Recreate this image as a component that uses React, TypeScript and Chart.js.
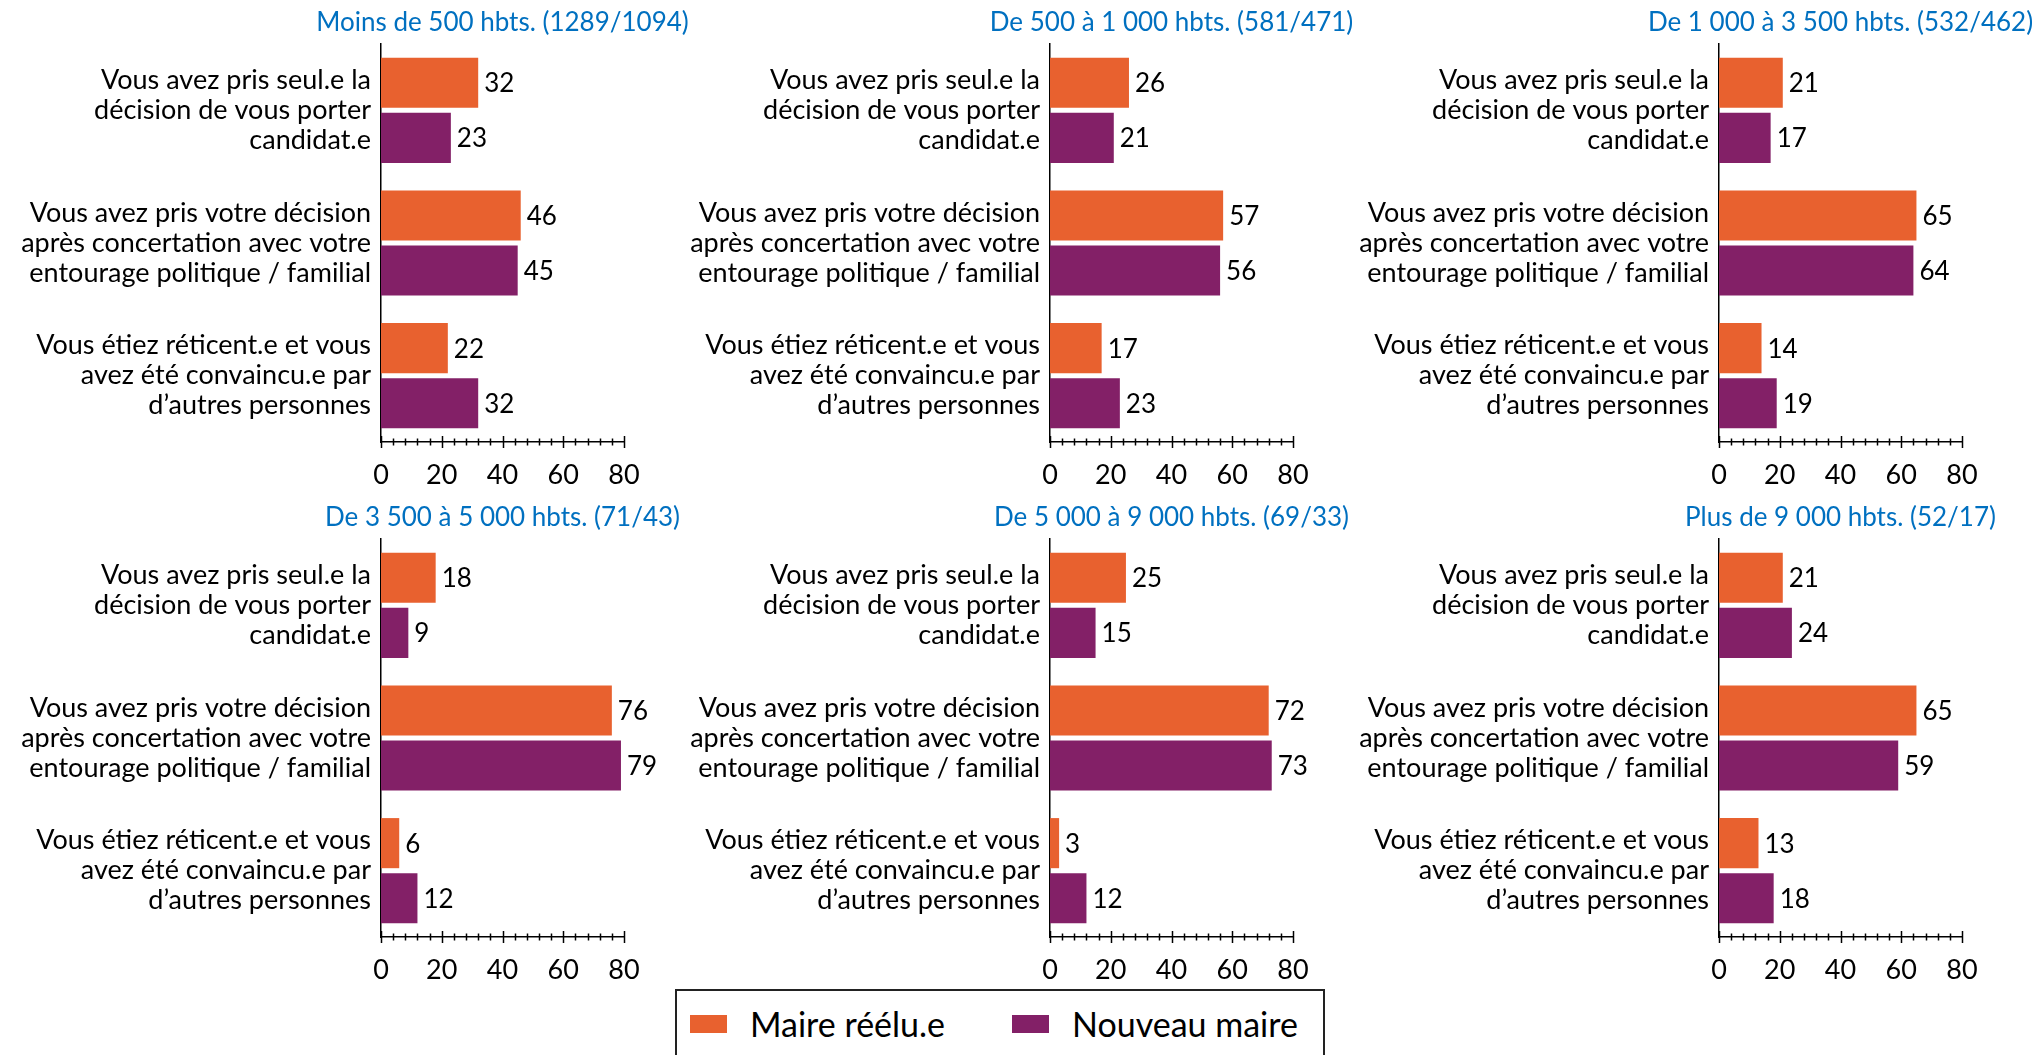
import React, { useEffect, useRef } from "react";
import { Chart, registerables } from "chart.js";

Chart.register(...registerables);

// ---------- DATA ----------
const categories: string[][] = [
  ["Vous avez pris seul.e la", "décision de vous porter", "candidat.e"],
  ["Vous avez pris votre décision", "après concertation avec votre", "entourage politique / familial"],
  ["Vous étiez réticent.e et vous", "avez été convaincu.e par", "d’autres personnes"],
];

const seriesNames = ["Maire réélu.e", "Nouveau maire"];

const panelTitles = [
  "Moins de 500 hbts. (1289/1094)",
  "De 500 à 1 000 hbts. (581/471)",
  "De 1 000 à 3 500 hbts. (532/462)",
  "De 3 500 à 5 000 hbts. (71/43)",
  "De 5 000 à 9 000 hbts. (69/33)",
  "Plus de 9 000 hbts. (52/17)",
];

const maireReelu: number[][] = [
  [32, 46, 22],
  [26, 57, 17],
  [21, 65, 14],
  [18, 76, 6],
  [25, 72, 3],
  [21, 65, 13],
];

const nouveauMaire: number[][] = [
  [23, 45, 32],
  [21, 56, 23],
  [17, 64, 19],
  [9, 79, 12],
  [15, 73, 12],
  [24, 59, 18],
];

const xTickValues = [0, 20, 40, 60, 80];
const xMinorStep = 4;

// ---------- STYLE ----------
const ORANGE = "#E8612F";
const PURPLE = "#832067";
const TITLE_BLUE = "#0070C0";
const FONT = "Lato";
const FONT_SIZE = 27;
const TITLE_SIZE = 26;
const VALUE_SIZE = 26;

// layout of panels (page pixels); canvases are transparent and may overlap
const COLS = [
  { left: 0, width: 720, axisX: 381, endX: 624 },
  { left: 680, width: 700, axisX: 1050, endX: 1293 },
  { left: 1350, width: 689, axisX: 1719, endX: 1962 },
];
const ROWS = [{ top: 0 }, { top: 495 }];
const CANVAS_H = 492;
const PAD_TOP = 44;
const X_AXIS_H = 50;

const panelPlugin = {
  id: "panelDecor",
  afterDraw(chart: any) {
    const ctx = chart.ctx;
    const area = chart.chartArea;
    const xs = chart.scales.x;
    const title = chart.options.plugins.panelDecor?.title ?? "";
    ctx.save();
    // title
    ctx.fillStyle = TITLE_BLUE;
    ctx.font = `${TITLE_SIZE}px ${FONT}`;
    ctx.textAlign = "center";
    ctx.textBaseline = "middle";
    ctx.fillText(title, (area.left + area.right) / 2, area.top - 21);
    // crossing ticks on x axis
    ctx.strokeStyle = "#000";
    ctx.lineWidth = 1.5;
    const y = area.bottom;
    const maxTick = xTickValues[xTickValues.length - 1];
    for (let v = xTickValues[0]; v <= maxTick + 1e-9; v += xMinorStep) {
      const px = Math.round(xs.getPixelForValue(v)) + 0.5;
      const major = xTickValues.includes(v);
      const h = major ? 6 : 3.5;
      ctx.beginPath();
      ctx.moveTo(px, y - h);
      ctx.lineTo(px, y + h);
      ctx.stroke();
    }
    ctx.restore();
  },
  afterDatasetsDraw(chart: any) {
    const ctx = chart.ctx;
    ctx.save();
    ctx.fillStyle = "#000";
    ctx.font = `${VALUE_SIZE}px ${FONT}`;
    ctx.textAlign = "left";
    ctx.textBaseline = "middle";
    chart.data.datasets.forEach((ds: any, di: number) => {
      const meta = chart.getDatasetMeta(di);
      meta.data.forEach((bar: any, i: number) => {
        ctx.fillText(String(ds.data[i]), bar.x + 6, bar.y + 1);
      });
    });
    ctx.restore();
  },
};

function Panel({ index }: { index: number }) {
  const ref = useRef<HTMLCanvasElement | null>(null);
  const col = COLS[index % 3];
  const row = ROWS[Math.floor(index / 3)];
  useEffect(() => {
    if (!ref.current) return;
    const yAxisW = col.axisX - col.left;
    const rightPad = col.left + col.width - col.endX;
    const chart = new Chart(ref.current, {
      type: "bar",
      data: {
        labels: categories as any,
        datasets: [
          {
            label: seriesNames[0],
            data: maireReelu[index],
            backgroundColor: ORANGE,
            categoryPercentage: 0.83,
            barPercentage: 0.91,
          },
          {
            label: seriesNames[1],
            data: nouveauMaire[index],
            backgroundColor: PURPLE,
            categoryPercentage: 0.83,
            barPercentage: 0.91,
          },
        ],
      },
      options: {
        indexAxis: "y",
        responsive: false,
        animation: false,
        devicePixelRatio: 1,
        layout: { padding: { top: PAD_TOP, right: rightPad, left: 0, bottom: 0 } },
        plugins: {
          legend: { display: false },
          title: { display: false },
          tooltip: { enabled: false },
          panelDecor: { title: panelTitles[index] },
        } as any,
        scales: {
          x: {
            min: xTickValues[0],
            max: xTickValues[xTickValues.length - 1],
            z: 1,
            afterBuildTicks: (s: any) => {
              s.ticks = xTickValues.map((v) => ({ value: v }));
            },
            ticks: {
              color: "#000",
              font: { family: FONT, size: FONT_SIZE },
              padding: 17,
              maxRotation: 0,
            },
            grid: { display: false, drawTicks: false },
            border: { display: true, color: "#000", width: 1.5 },
            afterFit: (s: any) => {
              s.height = X_AXIS_H;
              s.paddingLeft = 0;
              s.paddingRight = 0;
            },
          },
          y: {
            z: 1,
            ticks: {
              color: "#000",
              font: { family: FONT, size: FONT_SIZE, lineHeight: 30 / FONT_SIZE },
              padding: 10,
              crossAlign: "near",
            },
            grid: { display: false, drawTicks: false },
            border: { display: true, color: "#000", width: 1.5 },
            afterFit: (s: any) => {
              s.width = yAxisW;
              s.paddingTop = 0;
              s.paddingBottom = 0;
            },
          },
        },
      } as any,
      plugins: [panelPlugin],
    });
    return () => chart.destroy();
  }, [index]);
  return (
    <canvas
      ref={ref}
      width={col.width}
      height={CANVAS_H}
      style={{
        position: "absolute",
        left: col.left,
        top: row.top,
        width: col.width,
        height: CANVAS_H,
      }}
    />
  );
}

function Legend() {
  const colors = [ORANGE, PURPLE];
  const swatchX = [13, 335];
  const textX = [73, 395];
  return (
    <div
      style={{
        position: "absolute",
        left: 675,
        top: 989,
        width: 650,
        height: 90,
        border: "2px solid #222",
        boxSizing: "border-box",
        background: "#fff",
        fontFamily: FONT,
      }}
    >
      {seriesNames.map((n, i) => (
        <React.Fragment key={n}>
          <div
            style={{
              position: "absolute",
              left: swatchX[i],
              top: 24,
              width: 37,
              height: 18,
              background: colors[i],
            }}
          />
          <span
            style={{
              position: "absolute",
              left: textX[i],
              top: 15,
              fontSize: 34,
              lineHeight: "36px",
              color: "#000",
              whiteSpace: "nowrap",
            }}
          >
            {n}
          </span>
        </React.Fragment>
      ))}
    </div>
  );
}

export default function App() {
  return (
    <div
      style={{
        position: "absolute",
        left: 0,
        top: 0,
        width: 2039,
        height: 1055,
        overflow: "hidden",
        background: "#fff",
        fontFamily: FONT,
      }}
    >
      {panelTitles.map((_, i) => (
        <Panel key={i} index={i} />
      ))}
      <Legend />
    </div>
  );
}
